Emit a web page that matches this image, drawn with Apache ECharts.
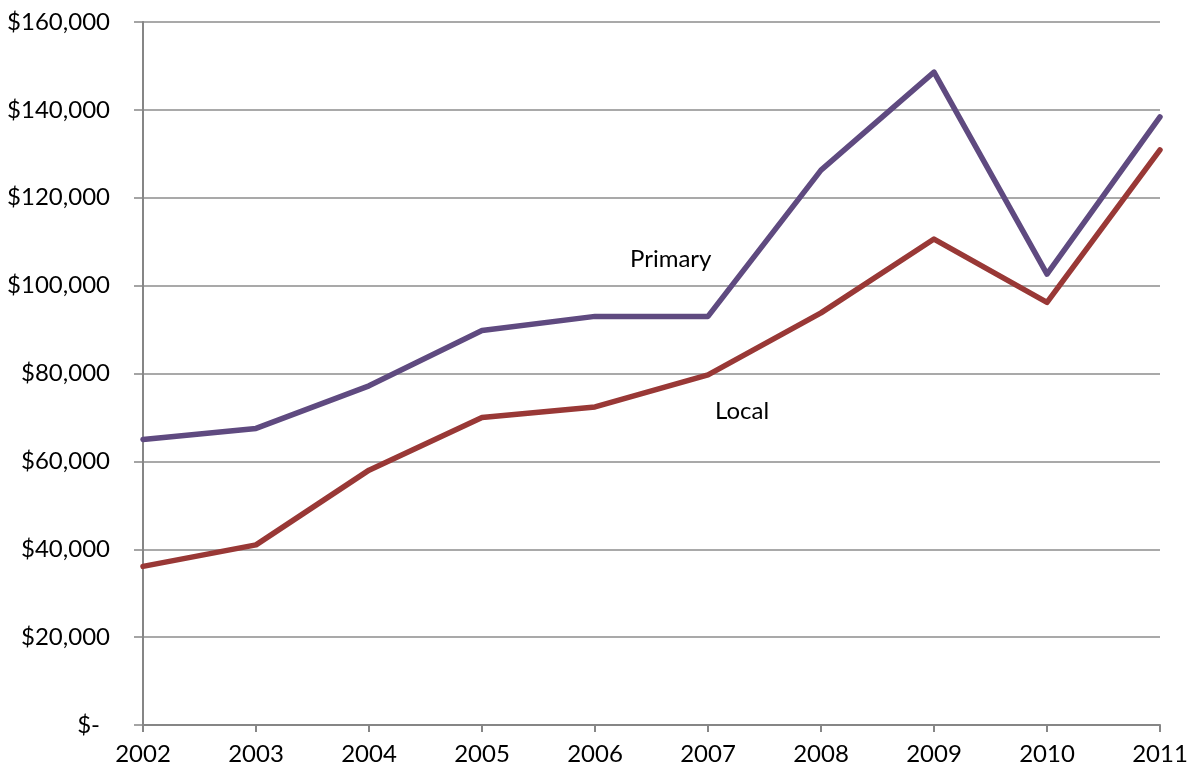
<!DOCTYPE html>
<html>
<head>
<meta charset="utf-8">
<script src="https://cdn.jsdelivr.net/npm/echarts@6/dist/echarts.min.js"></script>
<style>
html,body{margin:0;padding:0;background:#fff;}
#chart{width:1193px;height:773px;}
</style>
</head>
<body>
<div id="chart"></div>
<script>
const years = ['2002','2003','2004','2005','2006','2007','2008','2009','2010','2011'];
const primary = [65000, 67500, 77200, 89800, 93000, 93000, 126300, 148600, 102600, 138400];
const local = [36100, 41000, 58000, 70000, 72400, 79700, 93800, 110600, 96200, 130900];
const seriesNames = ['Primary', 'Local'];

const FONT = 'Lato, "Open Sans", sans-serif';
const chart = echarts.init(document.getElementById('chart'), null, {renderer: 'canvas'});
chart.setOption({
  animation: false,
  backgroundColor: '#ffffff',
  grid: {left: 143, right: 33, top: 22, bottom: 48, containLabel: false},
  xAxis: {
    type: 'category',
    data: years,
    boundaryGap: false,
    axisLine: {lineStyle: {color: '#868686', width: 2}},
    axisTick: {show: true, length: 7, lineStyle: {color: '#868686', width: 2}, alignWithLabel: true},
    axisLabel: {color: '#000', fontFamily: FONT, fontSize: 24, margin: 17}
  },
  yAxis: {
    type: 'value',
    min: 0, max: 160000, interval: 20000,
    axisLine: {show: true, lineStyle: {color: '#868686', width: 2}},
    axisTick: {show: true, length: 9, lineStyle: {color: '#868686', width: 1.5}},
    splitLine: {show: true, lineStyle: {color: '#8c8c8c', width: 1.5}},
    axisLabel: {
      color: '#000', fontFamily: FONT, fontSize: 24, margin: 33,
      formatter: v => v === 0 ? '{z|$-}' : '$' + v.toLocaleString('en-US'),
      rich: {z: {fontFamily: FONT, fontSize: 24, color: '#000', padding: [0, 10, 0, 0]}}
    }
  },
  series: [
    {name: seriesNames[0], type: 'line', data: primary, symbol: 'none',
     lineStyle: {color: '#5f4a80', width: 5.5, cap: 'round', join: 'round'}, z: 3},
    {name: seriesNames[1], type: 'line', data: local, symbol: 'none',
     lineStyle: {color: '#993836', width: 5.5, cap: 'round', join: 'round'}, z: 2}
  ],
  graphic: [
    {type: 'text', left: 630, top: 247, style: {text: seriesNames[0], fill: '#000', font: '24px ' + FONT}},
    {type: 'text', left: 715, top: 399, style: {text: seriesNames[1], fill: '#000', font: '24px ' + FONT}}
  ]
});
</script>
</body>
</html>
